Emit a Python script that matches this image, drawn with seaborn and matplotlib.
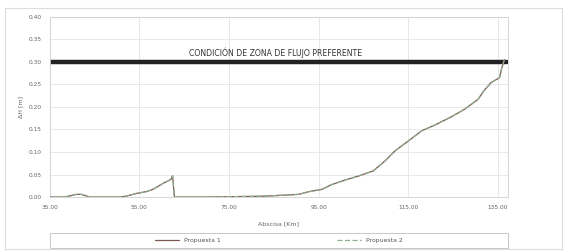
import pandas as pd
import numpy as np
import matplotlib.pyplot as plt
import seaborn as sns

# abscisa [Km] y ΔH [m]
abscisa = [35.0, 38.3, 40.9, 42.0, 43.9, 50.6, 52.0, 54.3, 56.5, 58.0, 60.2, 62.0, 62.4, 62.8,
           70.0, 83.0, 90.6, 92.8, 95.7, 98.0, 101.0, 104.0, 107.2, 109.8, 112.0, 114.3, 118.0,
           121.0, 124.6, 127.6, 130.6, 132.0, 133.5, 135.4, 135.9, 136.5]
dh_propuesta1 = [0.0, 0.0, 0.006, 0.006, 0.0, 0.0, 0.002, 0.008, 0.012, 0.017, 0.030, 0.039, 0.047, 0.0,
                 0.0, 0.002, 0.006, 0.012, 0.017, 0.028, 0.038, 0.047, 0.058, 0.080, 0.102, 0.119, 0.147,
                 0.160, 0.178, 0.195, 0.217, 0.237, 0.254, 0.265, 0.287, 0.305]
dh_propuesta2 = list(dh_propuesta1)

limite = 0.30
texto_limite = "CONDICIÓN DE ZONA DE FLUJO PREFERENTE"
xticks = [35, 55, 75, 95, 115, 135]
yticks = [0.0, 0.05, 0.10, 0.15, 0.20, 0.25, 0.30, 0.35, 0.40]

df = pd.DataFrame({"Abscisa": abscisa, "P1": dh_propuesta1, "P2": dh_propuesta2})

sns.set_style("white")
fig = plt.figure(figsize=(5.67, 2.52), dpi=100)
ax = fig.add_axes([0.088, 0.218, 0.808, 0.715])

# linea limite
ax.plot([35, 137], [limite, limite], color="#222222", linewidth=3.2, zorder=2)
ax.text(85.5, limite + 0.008, texto_limite, ha="center", va="bottom", fontsize=5.6, color="#333333")

sns.lineplot(data=df, x="Abscisa", y="P1", ax=ax, color="#7a5a50", linewidth=0.9,
             label="Propuesta 1", zorder=3)
sns.lineplot(data=df, x="Abscisa", y="P2", ax=ax, color="#8fae8f", linewidth=0.9,
             linestyle=(0, (4, 2)), label="Propuesta 2", zorder=4)

ax.set_xlim(35, 137.3)
ax.set_ylim(0, 0.40)
ax.set_xticks(xticks)
ax.set_xticklabels([f"{v:.2f}" for v in xticks])
ax.set_yticks(yticks)
ax.set_yticklabels([f"{v:.2f}" for v in yticks])
ax.tick_params(labelsize=4.2, colors="#666666", length=0, pad=6)
ax.grid(True, color="#e4e4e4", linewidth=0.6)
for s in ax.spines.values():
    s.set_color("#d0d0d0")
    s.set_linewidth(0.6)
ax.set_xlabel("Abscisa [Km]", fontsize=4.5, color="#666666", labelpad=8)
ax.set_ylabel("ΔH [m]", fontsize=4.5, color="#666666", labelpad=4)

# leyenda abajo, con marco propio
leg = ax.legend(loc="center", bbox_to_anchor=(0.5, -0.243), ncol=2, fontsize=4.4,
                frameon=False, handlelength=4, columnspacing=19)
for t in leg.get_texts():
    t.set_color("#555555")
ax.add_patch(plt.Rectangle((0.0, -0.285), 1.0, 0.085, transform=ax.transAxes, clip_on=False,
                           fill=False, edgecolor="#c8c8c8", linewidth=0.7))

# marco exterior
fig.patches.append(plt.Rectangle((0.008, 0.01), 0.984, 0.96, transform=fig.transFigure,
                                 fill=False, edgecolor="#dddddd", linewidth=0.8))

fig.savefig("out.png", dpi=100)
